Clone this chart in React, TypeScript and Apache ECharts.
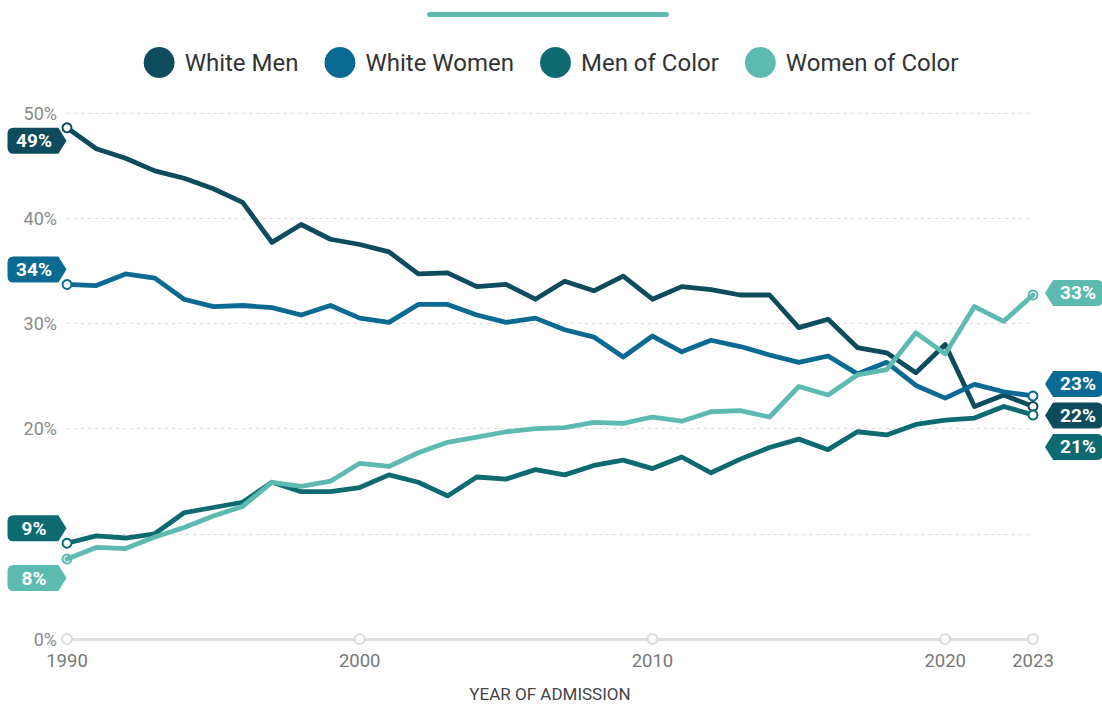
import React, { useEffect, useRef } from "react";
import * as echarts from "echarts";

// Share of admitted students by group, 1990–2023 (percent)
const years = [
  1990, 1991, 1992, 1993, 1994, 1995, 1996, 1997, 1998, 1999,
  2000, 2001, 2002, 2003, 2004, 2005, 2006, 2007, 2008, 2009,
  2010, 2011, 2012, 2013, 2014, 2015, 2016, 2017, 2018, 2019,
  2020, 2021, 2022, 2023,
];

const whiteMen = [
  48.6, 46.6, 45.7, 44.5, 43.8, 42.8, 41.5, 37.7, 39.4, 38.0,
  37.5, 36.8, 34.7, 34.8, 33.5, 33.7, 32.3, 34.0, 33.1, 34.5,
  32.3, 33.5, 33.2, 32.7, 32.7, 29.6, 30.4, 27.7, 27.2, 25.3,
  28.0, 22.1, 23.2, 22.1,
];

const whiteWomen = [
  33.7, 33.6, 34.7, 34.3, 32.3, 31.6, 31.7, 31.5, 30.8, 31.7,
  30.5, 30.1, 31.8, 31.8, 30.8, 30.1, 30.5, 29.4, 28.7, 26.8,
  28.8, 27.3, 28.4, 27.8, 27.0, 26.3, 26.9, 25.2, 26.3, 24.1,
  22.9, 24.2, 23.5, 23.1,
];

const menOfColor = [
  9.1, 9.8, 9.6, 10.0, 12.0, 12.5, 13.0, 14.9, 14.0, 14.0,
  14.4, 15.6, 14.9, 13.6, 15.4, 15.2, 16.1, 15.6, 16.5, 17.0,
  16.2, 17.3, 15.8, 17.1, 18.2, 19.0, 18.0, 19.7, 19.4, 20.4,
  20.8, 21.0, 22.1, 21.3,
];

const womenOfColor = [
  7.6, 8.7, 8.6, 9.7, 10.6, 11.7, 12.6, 14.9, 14.5, 15.0,
  16.7, 16.4, 17.7, 18.7, 19.2, 19.7, 20.0, 20.1, 20.6, 20.5,
  21.1, 20.7, 21.6, 21.7, 21.1, 24.0, 23.2, 25.1, 25.6, 29.1,
  27.1, 31.6, 30.2, 32.7,
];

const tickYears = [1990, 2000, 2010, 2020, 2023];

const seriesNames = ["White Men", "White Women", "Men of Color", "Women of Color"];
const seriesValues = [whiteMen, whiteWomen, menOfColor, womenOfColor];
const colors = ["#0d4b5d", "#0a6a92", "#0c6a70", "#5dbab0"];

// vertical nudges of the start / end value tags so they don't collide
const startTagShift = [13, -15, -15, 19];
const endTagShift = [9, -12, 32, -2];

const FONT = "Roboto, 'Noto Sans', sans-serif";

const leftTagPath = "path://M6,0L50,0L58,13L50,26L6,26Q0,26 0,20L0,6Q0,0 6,0Z";
const rightTagPath = "path://M8,0L51,0Q57,0 57,6L57,19Q57,25 51,25L8,25L0,12.5Z";

function buildSeries(name: string, values: number[], color: string, idx: number) {
  const last = values.length - 1;
  const tagLabel = {
    show: true,
    position: "inside",
    color: "#ffffff",
    fontWeight: "bold",
    fontSize: 19,
    fontFamily: FONT,
    formatter: (p: any) => `${Math.round(p.value)}%`,
  };
  const ring = {
    symbol: "circle",
    symbolSize: 9,
    itemStyle: { color: "#ffffff", borderColor: color, borderWidth: 2 },
    label: { show: false },
  };
  return {
    name,
    type: "line",
    color,
    data: years.map((y, i) => [y, values[i]]),
    showSymbol: false,
    symbol: "none",
    clip: false,
    lineStyle: { width: 4.8, color, join: "round", cap: "round" },
    emphasis: { disabled: true },
    z: 2 + idx,
    markPoint: {
      silent: true,
      animation: false,
      data: [
        {
          coord: [years[0], values[0]],
          value: values[0],
          symbol: leftTagPath,
          symbolSize: [59, 26],
          symbolOffset: [-30, startTagShift[idx]],
          itemStyle: { color },
          label: { ...tagLabel, offset: [-3, 0] },
        },
        {
          coord: [years[last], values[last]],
          value: values[last],
          symbol: rightTagPath,
          symbolSize: [58, 26],
          symbolOffset: [41, endTagShift[idx]],
          itemStyle: { color },
          label: { ...tagLabel, offset: [4, 0] },
        },
        { coord: [years[0], values[0]], value: values[0], ...ring },
        { coord: [years[last], values[last]], value: values[last], ...ring },
      ],
    },
  };
}

export default function App() {
  const ref = useRef<HTMLDivElement>(null);

  useEffect(() => {
    if (!ref.current) return;
    const chart = echarts.init(ref.current, null, { renderer: "svg" });

    const lineSeries = seriesNames.map((n, i) => buildSeries(n, seriesValues[i], colors[i], i));

    const option: any = {
      animation: false,
      textStyle: { fontFamily: FONT },
      graphic: [
        {
          type: "rect",
          left: 427,
          top: 12,
          shape: { width: 242, height: 5, r: 2.5 },
          style: { fill: "#5dbab0" },
        },
      ],
      legend: {
        data: seriesNames,
        top: 42,
        left: "center",
        icon: "circle",
        itemWidth: 31,
        itemHeight: 31,
        itemGap: 26,
        selectedMode: false,
        textStyle: {
          fontSize: 24,
          color: "#333333",
          fontFamily: FONT,
          padding: [0, 0, 0, 5],
        },
      },
      grid: { left: 67, right: 69, top: 113, bottom: 67, containLabel: false },
      xAxis: {
        type: "value",
        min: 1990,
        max: 2023,
        interval: 10,
        name: "YEAR OF ADMISSION",
        nameLocation: "middle",
        nameGap: 46,
        nameTextStyle: { fontSize: 17, color: "#444444", fontFamily: FONT },
        axisLine: { show: true, lineStyle: { color: "#dedede", width: 3 } },
        axisTick: { show: false },
        splitLine: { show: false },
        axisLabel: {
          color: "#777777",
          fontSize: 18.5,
          margin: 12,
          fontFamily: FONT,
          formatter: (v: number) => String(v),
        },
      },
      yAxis: {
        type: "value",
        min: 0,
        max: 50,
        interval: 10,
        axisLine: { show: false },
        axisTick: { show: false },
        axisLabel: {
          color: "#8a8a8a",
          fontSize: 18,
          margin: 10,
          fontFamily: FONT,
          formatter: (v: number) => (v === 10 ? "" : `${v}%`),
        },
        splitLine: { lineStyle: { color: "#d9d9d9", type: [3, 4], width: 1 } },
      },
      series: [
        ...lineSeries,
        {
          name: "axis ticks",
          type: "scatter",
          data: tickYears.map((y) => [y, 0]),
          symbol: "circle",
          symbolSize: 10,
          clip: false,
          silent: true,
          itemStyle: { color: "#ffffff", borderColor: "#d6d6d6", borderWidth: 2 },
          z: 10,
        },
      ],
    };

    chart.setOption(option);
    return () => chart.dispose();
  }, []);

  return (
    <div
      ref={ref}
      style={{ position: "fixed", left: 0, top: 0, width: "100vw", height: "100vh", background: "#ffffff" }}
    />
  );
}
